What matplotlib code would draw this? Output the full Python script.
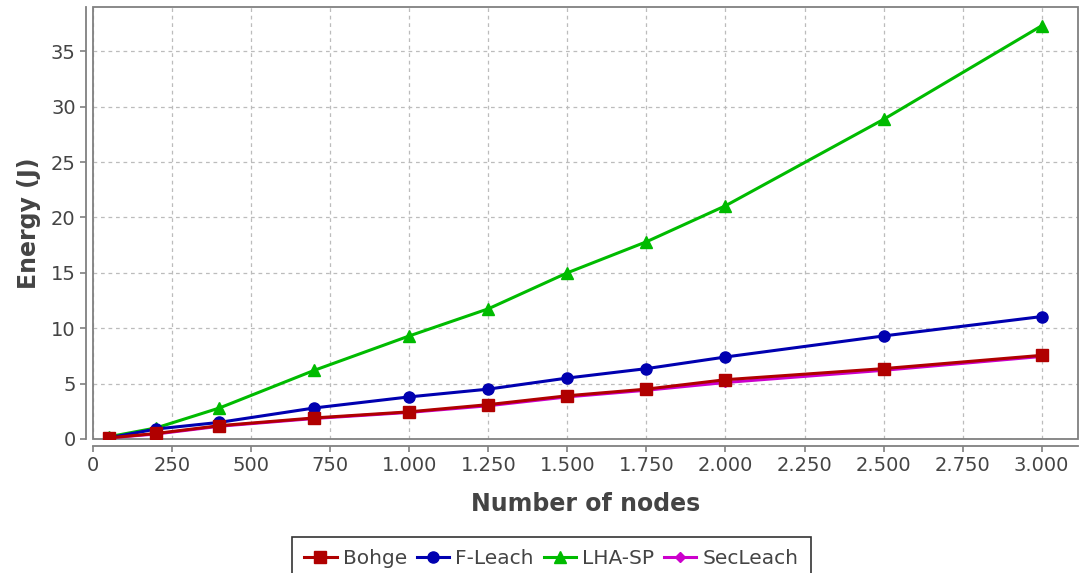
import matplotlib.pyplot as plt
from matplotlib.ticker import FuncFormatter, MultipleLocator
from matplotlib.patches import Rectangle

# number of nodes in each simulation run
nodes = [50, 200, 400, 700, 1000, 1250, 1500, 1750, 2000, 2500, 3000]

# consumed energy (J) per protocol
bohge = [0.1, 0.5, 1.2, 1.9, 2.45, 3.1, 3.9, 4.5, 5.35, 6.35, 7.55]
f_leach = [0.1, 0.9, 1.5, 2.8, 3.8, 4.5, 5.5, 6.35, 7.4, 9.3, 11.05]
lha_sp = [0.2, 1.0, 2.8, 6.2, 9.3, 11.75, 15.0, 17.8, 21.05, 28.85, 37.3]
sec_leach = [0.1, 0.45, 1.15, 1.85, 2.4, 3.0, 3.8, 4.4, 5.1, 6.2, 7.45]

fig = plt.figure(figsize=(10.79, 5.73), dpi=100)
ax = fig.add_axes([0.0862, 0.2339, 0.9129, 0.754])

series = [
    ('Bohge', bohge, '#b00000', 's', 8),
    ('F-Leach', f_leach, '#0000b0', 'o', 8),
    ('LHA-SP', lha_sp, '#00bb00', '^', 9),
    ('SecLeach', sec_leach, '#cc00cc', 'D', 5),
]
# draw in reverse so Bohge ends up on top of SecLeach
handles = {}
for name, vals, col, mk, ms in reversed(series):
    h, = ax.plot(nodes, vals, color=col, marker=mk, markersize=ms, lw=2.2,
                 label=name)
    handles[name] = h

ax.set_xlim(0, 3115)
ax.set_ylim(0, 39)
ax.xaxis.set_major_locator(MultipleLocator(250))
ax.yaxis.set_major_locator(MultipleLocator(5))
ax.xaxis.set_major_formatter(FuncFormatter(lambda v, p: f'{int(v):,}'.replace(',', '.')))

ax.grid(True, color='#bcbcbc', linestyle=(0, (3, 3)), lw=0.9)
ax.set_axisbelow(True)

for s in ['top', 'right']:
    ax.spines[s].set_visible(False)
for s in ['left', 'bottom']:
    ax.spines[s].set_position(('outward', 5))
    ax.spines[s].set_color('#808080')
    ax.spines[s].set_linewidth(1.3)
ax.add_patch(Rectangle((0, 0), 1, 1, transform=ax.transAxes, fill=False,
                       edgecolor='#808080', lw=1.3, clip_on=False))

ax.tick_params(colors='#808080', labelcolor='#444444', labelsize=14,
               length=4, width=1.2)

ax.set_xlabel('Number of nodes', fontsize=17, fontweight='bold',
              color='#444444', labelpad=12)
ax.set_ylabel('Energy (J)', fontsize=17, fontweight='bold',
              color='#444444', labelpad=7)

leg = fig.legend([handles[n] for n, *_ in series], [n for n, *_ in series],
                 loc='upper center', bbox_to_anchor=(0.511, 0.0628), ncol=4,
                 fontsize=14.5, frameon=True, fancybox=False, borderpad=0.6,
                 handlelength=1.6, handletextpad=0.3, columnspacing=0.5,
                 markerscale=1.0, borderaxespad=0)
leg.get_frame().set_edgecolor('black')
leg.get_frame().set_linewidth(1.2)
for t in leg.get_texts():
    t.set_color('#444444')

fig.savefig('out.png', dpi=100)
